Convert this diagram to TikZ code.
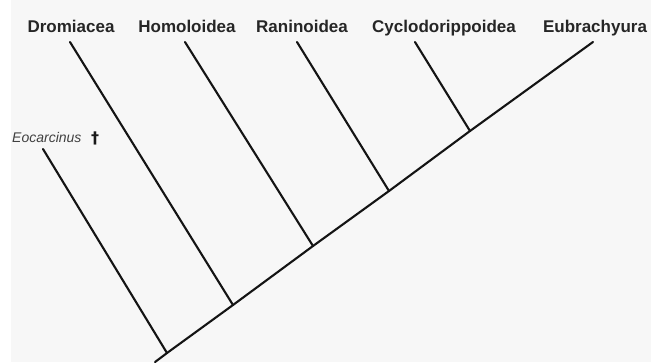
\documentclass[tikz,border=0pt]{standalone}
\usepackage{fontspec}
\setmainfont{Liberation Sans}
\newfontfamily\dagfont{DejaVu Sans}
\begin{document}
\begin{tikzpicture}[x=1pt,y=-1pt,
  branch/.style={line width=2.1pt,draw=black!92,line cap=round},
  taxon/.style={font=\fontsize{17}{20}\selectfont\bfseries,text=black!85,anchor=base,inner sep=0pt},
  fossil/.style={font=\fontsize{14}{17}\selectfont\itshape,text=black!75,anchor=base west,inner sep=0pt}]
\useasboundingbox (0,0) rectangle (651,362);
\fill[white] (0,0) rectangle (651,362);
\fill[black!3] (11,0) rectangle (651,362);
% tips
\coordinate (tEo) at (43,149);
\coordinate (tDr) at (70,42);
\coordinate (tHo) at (185,42);
\coordinate (tRa) at (297,42);
\coordinate (tCy) at (415,42);
\coordinate (tEu) at (593,42);
% junctions
\coordinate (root) at (167,353);
\coordinate (base) at (155,362);
\coordinate (jDr) at (233,305);
\coordinate (jHo) at (313,246);
\coordinate (jRa) at (389,191);
\coordinate (jCy) at (470,131);
% labels
\node[taxon] (lDr) at (71,32) {Dromiacea};
\node[taxon] (lHo) at (187,32) {Homoloidea};
\node[taxon] (lRa) at (302,32) {Raninoidea};
\node[taxon] (lCy) at (444,32) {Cyclodorippoidea};
\node[taxon] (lEu) at (595,32) {Eubrachyura};
\node[fossil] (lEo) at (12,142) {Eocarcinus};
\node[font=\dagfont\fontsize{16}{18}\selectfont\bfseries,text=black!90,anchor=base,inner sep=0pt] (dag) at (95,143) {†};
% branches
\draw[branch] (base) -- (root) -- (jDr) -- (jHo) -- (jRa) -- (jCy) -- (tEu);
\draw[branch] (root) -- (tEo);
\draw[branch] (jDr) -- (tDr);
\draw[branch] (jHo) -- (tHo);
\draw[branch] (jRa) -- (tRa);
\draw[branch] (jCy) -- (tCy);
\end{tikzpicture}
\end{document}
